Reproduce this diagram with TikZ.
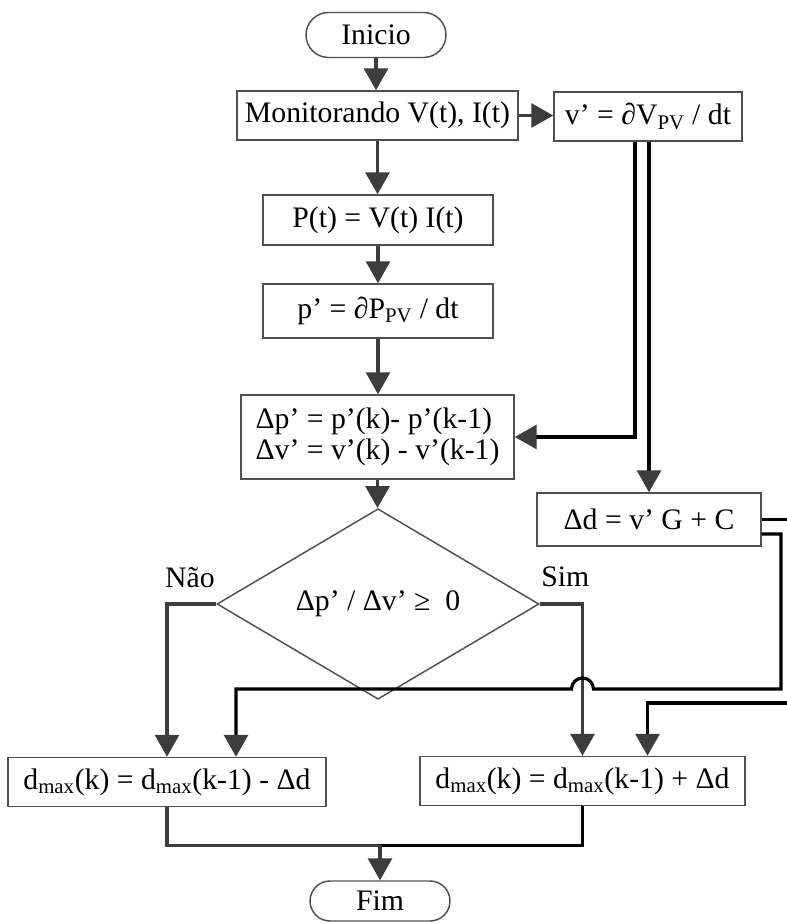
\documentclass[tikz,border=0pt]{standalone}
\usepackage{fontspec}
\setmainfont{Liberation Serif}
\usetikzlibrary{arrows.meta,calc,shapes.geometric,shapes.misc}
\definecolor{arrgray}{HTML}{3C3C3C}
\definecolor{boxgray}{HTML}{505050}
\begin{document}
\begin{tikzpicture}[x=0.75pt,y=0.75pt,font=\fontsize{22.3}{23.5}\selectfont,
    box/.style={draw=boxgray,line width=1.1pt,inner sep=0pt,minimum height=36.75pt},
    term/.style={rounded rectangle,draw=boxgray,line width=1.1pt,inner sep=0pt,minimum width=105pt,minimum height=33.75pt},
    dec/.style={diamond,draw=boxgray,line width=1.1pt,inner sep=0pt,minimum width=241.5pt,minimum height=104.25pt},
    arr/.style={draw=arrgray,line width=2.4pt,-{Triangle[length=16.5pt,width=18pt]}},
    fb/.style={draw=black,line width=2.4pt,-{Triangle[length=16.5pt,width=18pt,color=arrgray]}}]
    \useasboundingbox (0,0) rectangle (786,-923);
    \node [term] (ini) at (376,-35) {Inicio};
    \node [box,minimum width=210.75pt] (mon) at (377.5,-115.5) {Monitorando V(t), I(t)};
    \node [box,minimum width=141pt] (vd) at (648,-116.5) {v’ = ∂V\textsubscript{PV} / dt};
    \node [box,minimum width=172.5pt,minimum height=37.5pt] (pt) at (378,-220) {P(t) = V(t) I(t)};
    \node [box,minimum width=172.5pt,minimum height=40.5pt] (pd) at (378,-311) {p’ = ∂P\textsubscript{PV} / dt};
    \node [box,minimum width=204.75pt,minimum height=63pt,align=left] (dp) at (377.5,-437) {Δp’ = p’(k)- p’(k-1)\\Δv’ = v’(k) - v’(k-1)};
    \node [box,minimum width=168pt,minimum height=39.75pt] (dd) at (649,-519.5) {Δd = v’ G + C};
    \node [dec] (dc) at (378,-604) {Δp’ / Δv’ ≥ \ 0};
    \node [box,minimum width=238.5pt] (lb) at (167,-782) {d\textsubscript{max}(k) = d\textsubscript{max}(k-1) - Δd};
    \node [box,minimum width=243.75pt] (rb) at (582.5,-781) {d\textsubscript{max}(k) = d\textsubscript{max}(k-1) + Δd};
    \node [term,minimum height=30pt] (fim) at (380,-901) {Fim};
    \foreach \a/\b in {ini/mon,mon/pt,pt/pd,pd/dp,dp/dc}
    \draw [arr] (\a.south) -- (\a.south |- \b.north);
    \draw [arr] (mon.east) -- (mon.east -| vd.west);
    \draw [fb] ($(vd.south)+(-13,0)$) |- (dp.east);
    \draw [fb] (vd.south -| dd.north) -- (dd.north);
    \draw [arr] (dc.west) -| (lb.north) node [pos=0,anchor=south east,inner sep=0pt,yshift=11pt] {Não};
    \draw [arr] (dc.east) -| (rb.north) node [pos=0,anchor=south west,inner sep=0pt,yshift=12pt] {Sim};
    \coordinate (ka) at (781,-689);
    \coordinate (kb) at (796,-703);
    \coordinate (lin) at ($(lb.north)+(69,0)$);
    \coordinate (rin) at ($(rb.north)+(65,0)$);
    \draw [fb] ($(dd.east)+(0,-14.5)$) -| (ka) -- ($(rb.north |- ka)+(11,0)$) arc [start angle=0,end angle=180,radius=8.25pt] -| (lin);
    \draw [fb] (dd.east) -| (kb) -| (rin);
    \coordinate (mg) at ($(fim.north)+(0,35)$);
    \draw [arrgray,line width=2.4pt] (lb.south) |- (mg);
    \draw [black,line width=2.4pt] (rb.south) |- (mg);
    \draw [arr] (mg) -- (fim.north);
\end{tikzpicture}
\end{document}
